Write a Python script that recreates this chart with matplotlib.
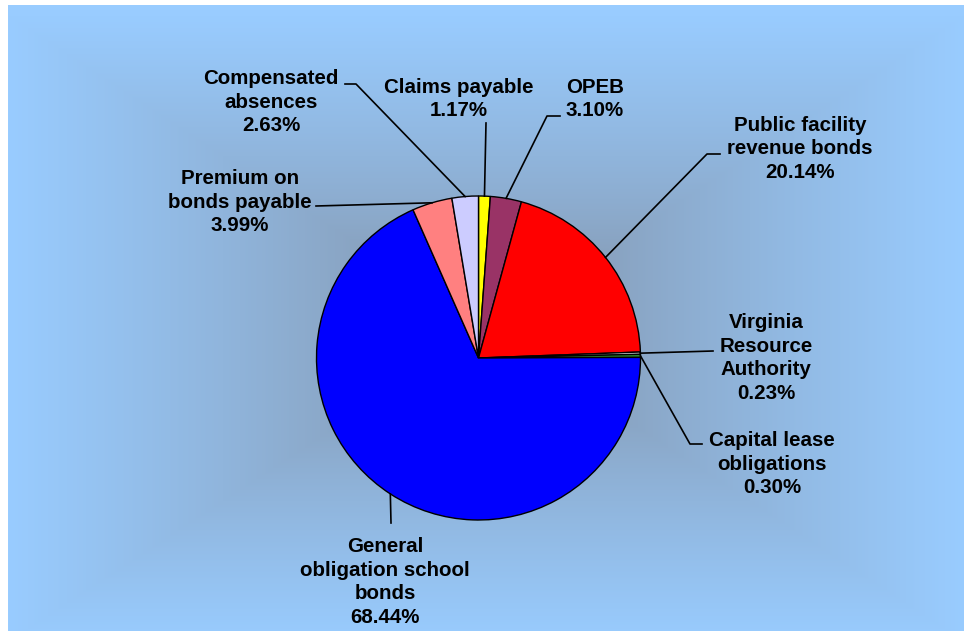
import numpy as np
import matplotlib.pyplot as plt

plt.rcParams['font.family'] = ['Liberation Sans', 'DejaVu Sans']

labels = ['Claims payable', 'OPEB', 'Public facility\nrevenue bonds',
          'Virginia\nResource\nAuthority', 'Capital lease\nobligations',
          'General\nobligation school\nbonds', 'Premium on\nbonds payable',
          'Compensated\nabsences']
shares = [1.17, 3.10, 20.14, 0.23, 0.30, 68.44, 3.99, 2.63]
colors = ['#FFFF00', '#993366', '#FF0000', '#E0E0E0', '#339933',
          '#0000FF', '#FF8080', '#CCCCFF']

W, H = 964, 631

def py(y):
    # pixel row (from top) -> data y (from bottom)
    return H - y

# label block centres and leader line points, in pixels from top-left
label_pos = [(459, 99), (595, 99), (800, 149), (766, 358), (772, 464),
             (385, 582), (240, 202), (271, 102)]
leaders = [[(486, 123)], [(560, 116), (547, 116)], [(720, 154), (707, 154)],
           [(713, 351)], [(702, 444), (690, 444)], [(391, 523)],
           [(316, 206)], [(345, 84), (356, 84)]]

fig = plt.figure(figsize=(W / 100, H / 100), dpi=100)
fig.patch.set_facecolor('white')
ax = fig.add_axes([0, 0, 1, 1])

# rectangular "from centre" gradient background
x0, x1, y0, y1 = 8, W, 5, H
cx, cy = (x0 + x1) / 2, (y0 + y1) / 2 + 10
xs = np.arange(x0, x1)
ys = np.arange(y0, y1)
gx, gy = np.meshgrid(xs, ys)
d = np.maximum(np.abs(gx - cx) / ((x1 - x0) / 2), np.abs(gy - cy) / ((y1 - y0) / 2))
d = np.clip(d, 0, 1) ** 0.75
inner = np.array([128, 140, 158]) / 255
outer = np.array([153, 204, 255]) / 255
img = inner[None, None, :] * (1 - d[..., None]) + outer[None, None, :] * d[..., None]
ax.imshow(img, extent=(x0, x1, py(y1), py(y0)), aspect='auto', zorder=0,
          interpolation='bilinear')

pc = (478.5, py(358))
r = 162
wedges, _ = ax.pie(shares, colors=colors, startangle=90, counterclock=False,
                   center=pc, radius=r, frame=True,
                   wedgeprops=dict(edgecolor='black', linewidth=1))
for w in wedges:
    w.set_zorder(2)

for w, lab, val, (tx, ty), pts in zip(wedges, labels, shares, label_pos, leaders):
    mid = np.deg2rad((w.theta1 + w.theta2) / 2)
    ex = pc[0] + r * np.cos(mid)
    ey = pc[1] + r * np.sin(mid)
    lx = [p[0] for p in pts] + [ex]
    ly = [py(p[1]) for p in pts] + [ey]
    ax.plot(lx, ly, color='black', lw=1.2, zorder=3)
    ax.text(tx, py(ty), '%s\n%.2f%%' % (lab, val), ha='center', va='center',
            fontsize=14.8, fontweight='bold', color='black', zorder=4,
            linespacing=1.32)

ax.set_xlim(0, W)
ax.set_ylim(0, H)
ax.axis('off')

fig.savefig('out.png', dpi=100, facecolor='white')
